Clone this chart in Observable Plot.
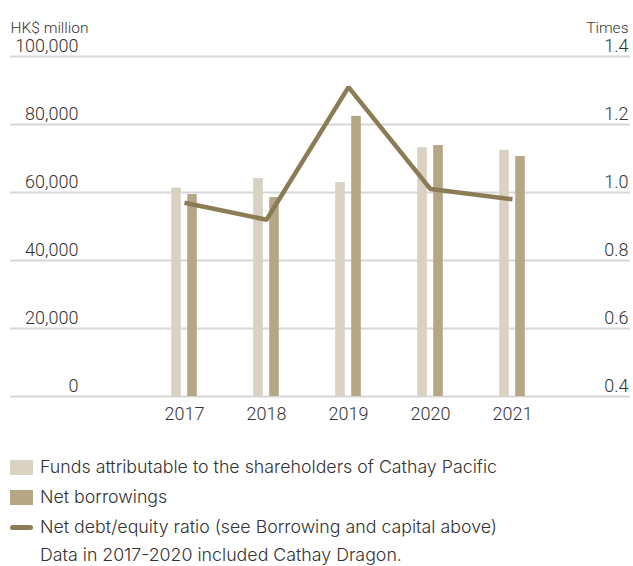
<!DOCTYPE html>
<html><head><meta charset="utf-8">
<script src="https://cdn.jsdelivr.net/npm/d3@7"></script>
<script src="https://cdn.jsdelivr.net/npm/@observablehq/plot@0.6"></script>
<style>
body{margin:0;background:#fff;font-family:Roboto,"Open Sans",sans-serif;font-weight:300;color:#333}
#wrap{position:relative;width:633px;height:566px;overflow:hidden}
#chart svg{display:block}
.lg{position:absolute;left:10px;display:flex;align-items:center;font-family:Inter,Roboto,sans-serif;font-weight:300;font-size:17.8px;line-height:20px;white-space:nowrap;color:#333}
.sw{display:inline-block;width:23px;height:15px;margin-right:7px}
.ln{display:inline-block;width:23px;height:5px;border-radius:3px;margin-right:7px}
</style></head><body>
<div id="wrap">
<div id="chart"></div>
<div class="lg" style="top:457px"><span class="sw" style="background:#d9d1c1"></span>Funds attributable to the shareholders of Cathay Pacific</div>
<div class="lg" style="top:487px"><span class="sw" style="background:#b5a785"></span>Net borrowings</div>
<div class="lg" style="top:517px"><span class="ln" style="background:#8c7c55"></span>Net debt/equity ratio (see Borrowing and capital above)</div>
<div class="lg" style="top:545px;left:40px">Data in 2017-2020 included Cathay Dragon.</div>
</div>
<script>
const years = ["2017", "2018", "2019", "2020", "2021"];
const funds = [61300, 64100, 62900, 73200, 72400];
const netBorrowings = [59400, 58500, 82400, 73800, 70600];
const ratio = [0.97, 0.92, 1.31, 1.01, 0.98];
const leftTicks = [0, 20000, 40000, 60000, 80000, 100000];
const rightTicks = [0.4, 0.6, 0.8, 1.0, 1.2, 1.4];

const data = years.map((year, i) => ({year, funds: funds[i], net: netBorrowings[i], ratio: ratio[i]}));
const toLeft = r => (r - 0.4) * 100000; // right axis 0.4–1.4 maps onto left 0–100,000

const chart = Plot.plot({
  width: 633,
  height: 436,
  marginTop: 56,
  marginBottom: 40,
  marginLeft: 10,
  marginRight: 3,
  style: {fontFamily: "Roboto, 'Open Sans', sans-serif", fontWeight: 300, color: "#333", background: "#fff"},
  x: {type: "band", domain: years, range: [141.8, 553.8], padding: 0},
  y: {domain: [0, 100000]},
  marks: [
    Plot.ruleY(leftTicks, {stroke: "#d6d6d6", strokeWidth: 2}),
    Plot.barY(data, {x: "year", y: "funds", fill: "#d9d1c1", insetLeft: 28.2, insetRight: 44.2}),
    Plot.barY(data, {x: "year", y: "net", fill: "#b5a785", insetLeft: 44.2, insetRight: 28.2}),
    Plot.line(data, {x: "year", y: d => toLeft(d.ratio), stroke: "#8c7c55", strokeWidth: 4.5, strokeLinejoin: "miter", strokeLinecap: "butt"}),
    Plot.axisY(leftTicks, {anchor: "left", tickSize: 0, tickPadding: 0, dx: 68, dy: -10, fontSize: 18, tickFormat: d3.format(","), label: null}),
    Plot.text(rightTicks, {y: d => toLeft(d), text: d => d.toFixed(1), frameAnchor: "right", textAnchor: "end", dx: -2, dy: -10, fontSize: 18, fill: "#333"}),
    Plot.axisX({tickSize: 0, tickPadding: 11, fontSize: 18, label: null}),
    Plot.text(["HK$ million"], {frameAnchor: "top-left", textAnchor: "start", dy: -35, fontSize: 15.5, fill: "#333"}),
    Plot.text(["Times"], {frameAnchor: "top-right", textAnchor: "end", dx: -2, dy: -35, fontSize: 15.5, fill: "#333"})
  ]
});
document.getElementById("chart").append(chart);
</script>
</body></html>
